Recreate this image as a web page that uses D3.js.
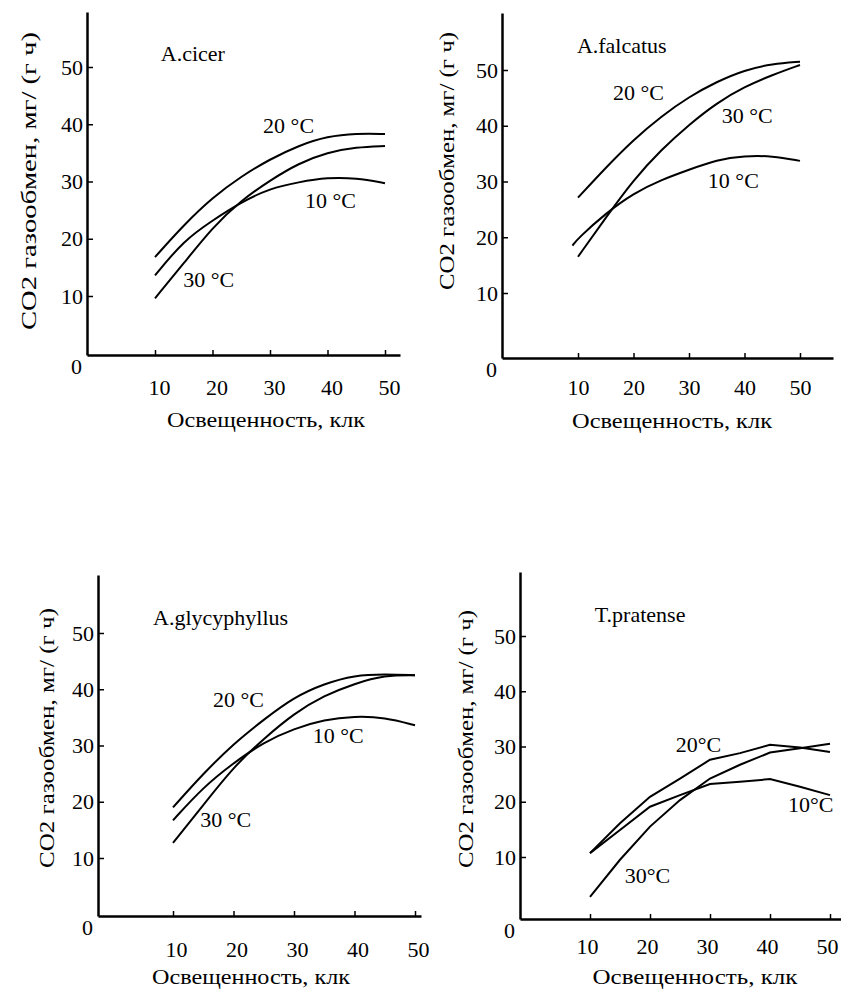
<!DOCTYPE html>
<html>
<head>
<meta charset="utf-8">
<script src="https://cdn.jsdelivr.net/npm/d3@7"></script>
<style>
  body { margin: 0; background: #fff; }
  svg { display: block; font-family: 'Liberation Serif', 'Times New Roman', serif; }
</style>
</head>
<body>
<svg width="841" height="989"></svg>
<script>
'use strict'

// Data.
const lux = [10, 15, 20, 25, 30, 35, 40, 45, 50]
const luxFromNine = [9, 10, 15, 20, 25, 30, 35, 40, 45, 50]
const xTicks = [10, 20, 30, 40, 50]
const yTicks = [10, 20, 30, 40, 50]
const yLabel = 'CO2 газообмен, мг/ (г ч)'
const xLabel = 'Освещенность, клк'

const cicer10 = [13.6, 19.7, 23.2, 26.4, 28.8, 29.9, 30.7, 30.6, 29.7]
const cicer20 = [16.8, 22.4, 27.2, 30.9, 33.9, 36.3, 37.9, 38.4, 38.3]
const cicer30 = [9.6, 15.7, 22.0, 26.7, 30.2, 33.2, 35.1, 36.0, 36.2]

const falcatus10 = [18.5, 19.8, 24.3, 27.9, 30.3, 32.1, 33.9, 34.6, 34.6, 33.7]
const falcatus20 = [27.1, 32.5, 37.5, 41.7, 45.2, 47.9, 50.0, 51.1, 51.5]
const falcatus30 = [16.5, 23.5, 30.3, 35.7, 40.2, 44.1, 47.0, 49.1, 50.9]

const glyc10 = [16.7, 22.6, 26.9, 30.6, 33.0, 34.6, 35.2, 35.0, 33.6]
const glyc20 = [19.0, 25.0, 30.3, 34.6, 38.6, 41.0, 42.5, 42.7, 42.5]
const glyc30 = [12.7, 19.4, 26.2, 31.2, 35.7, 38.9, 41.0, 42.5, 42.5]

const prat10 = [10.7, 14.9, 19.1, 21.2, 23.2, 23.6, 24.1, 22.7, 21.2]
const prat20 = [10.7, 16.1, 20.9, 24.2, 27.6, 28.8, 30.3, 29.8, 29.0]
const prat30 = [2.8, 9.5, 15.5, 20.3, 24.2, 26.7, 28.9, 29.7, 30.5]

// Panel layout: axis frame in pixels, where ticks 10 and 50 fall, label spots in data units.
const panels = [
  {
    name: 'A.cicer', nameAt: [11.0, 51.0], curve: d3.curveBasis,
    frame: { left: 87, top: 12, bottom: 355, right: 400 },
    x10: 155, x50: 385, y10: 296, y50: 67, xPad: 24, xDx: 4,
    yTitle: { x: 36, y: 181, len: 298 }, xTitle: { x: 266, y: 427, len: 198 },
    series: [
      { label: '20 °C', x: lux, y: cicer20, at: [28.8, 38.5] },
      { label: '10 °C', x: lux, y: cicer10, at: [36.1, 25.4] },
      { label: '30 °C', x: lux, y: cicer30, at: [14.9, 11.6] },
    ],
  },
  {
    name: 'A.falcatus', nameAt: [9.8, 53.0], curve: d3.curveBasis,
    frame: { left: 502, top: 13, bottom: 358, right: 833 },
    x10: 578, x50: 800, y10: 293, y50: 70, xPad: 21, xDx: 0,
    yTitle: { x: 454, y: 161, len: 258 }, xTitle: { x: 672, y: 428, len: 200 },
    series: [
      { label: '20 °C', x: lux, y: falcatus20, at: [16.3, 44.6] },
      { label: '30 °C', x: lux, y: falcatus30, at: [35.9, 40.5] },
      { label: '10 °C', x: luxFromNine, y: falcatus10, at: [33.4, 28.8] },
    ],
  },
  {
    name: 'A.glycyphyllus', nameAt: [6.7, 51.4], curve: d3.curveBasis,
    frame: { left: 98, top: 575, bottom: 916, right: 421 },
    x10: 173, x50: 415, y10: 858, y50: 633, xPad: 25, xDx: 3,
    yTitle: { x: 54, y: 738, len: 260 }, xTitle: { x: 251, y: 984, len: 198 },
    series: [
      { label: '20 °C', x: lux, y: glyc20, at: [16.6, 36.8] },
      { label: '10 °C', x: lux, y: glyc10, at: [33.1, 30.4] },
      { label: '30 °C', x: lux, y: glyc30, at: [14.5, 15.5] },
    ],
  },
  {
    name: 'T.pratense', nameAt: [10.8, 52.5], curve: d3.curveLinear,
    frame: { left: 520, top: 572, bottom: 919, right: 841 },
    x10: 590, x50: 830, y10: 857, y50: 636, xPad: 19, xDx: -3,
    yTitle: { x: 473, y: 739, len: 258 }, xTitle: { x: 695, y: 984, len: 205 },
    series: [
      { label: '20°C', x: lux, y: prat20, at: [24.3, 29.0] },
      { label: '10°C', x: lux, y: prat10, at: [43.0, 18.1] },
      { label: '30°C', x: lux, y: prat30, at: [15.8, 5.3] },
    ],
  },
]

const svg = d3.select('svg')
const fontSize = 22

panels.forEach(panel => {
  const { frame } = panel
  const g = svg.append('g')

  // Scales fixed by the tick positions, then stretched to the drawn axis lines.
  const x = d3.scaleLinear().domain([10, 50]).range([panel.x10, panel.x50])
  x.domain([x.invert(frame.left), x.invert(frame.right)]).range([frame.left, frame.right])
  const y = d3.scaleLinear().domain([10, 50]).range([panel.y10, panel.y50])
  y.domain([y.invert(frame.bottom), y.invert(frame.top)]).range([frame.bottom, frame.top])

  // Axes.
  const xAxis = g
    .append('g')
    .attr('transform', `translate(0, ${frame.bottom})`)
    .call(
      d3.axisBottom(x).tickValues(xTicks).tickSizeInner(-5).tickSizeOuter(0).tickPadding(panel.xPad)
    )
  const yAxis = g
    .append('g')
    .attr('transform', `translate(${frame.left}, 0)`)
    .call(d3.axisLeft(y).tickValues(yTicks).tickSizeInner(-6).tickSizeOuter(0).tickPadding(4))

  ;[xAxis, yAxis].forEach(axis => {
    axis.attr('font-family', null).attr('font-size', fontSize)
    axis.select('.domain').attr('stroke', '#000').attr('stroke-width', 2.5)
    axis.selectAll('.tick line').attr('stroke', '#000').attr('stroke-width', 1.5)
    axis.selectAll('.tick text').attr('fill', '#000')
  })
  xAxis.selectAll('.tick text').attr('dx', panel.xDx)

  // Zero sits below-left of the origin.
  g.append('text')
    .attr('x', frame.left - 5)
    .attr('y', frame.bottom + 19)
    .attr('text-anchor', 'end')
    .attr('font-size', fontSize)
    .text('0')

  // Axis titles.
  g.append('text')
    .attr('transform', `translate(${panel.yTitle.x}, ${panel.yTitle.y}) rotate(-90)`)
    .attr('text-anchor', 'middle')
    .attr('font-size', fontSize)
    .attr('textLength', panel.yTitle.len)
    .attr('lengthAdjust', 'spacingAndGlyphs')
    .text(yLabel)
  g.append('text')
    .attr('x', panel.xTitle.x - panel.xTitle.len / 2)
    .attr('y', panel.xTitle.y)
    .attr('font-size', fontSize)
    .attr('textLength', panel.xTitle.len)
    .attr('lengthAdjust', 'spacingAndGlyphs')
    .text(xLabel)

  // Species name.
  g.append('text')
    .attr('x', x(panel.nameAt[0]))
    .attr('y', y(panel.nameAt[1]))
    .attr('font-size', fontSize)
    .text(panel.name)

  // Curves.
  const line = d3
    .line()
    .x(d => x(d[0]))
    .y(d => y(d[1]))
    .curve(panel.curve)

  g.selectAll('path.curve')
    .data(panel.series)
    .enter()
    .append('path')
    .attr('class', 'curve')
    .attr('d', s => line(d3.zip(s.x, s.y)))
    .attr('fill', 'none')
    .attr('stroke', '#000')
    .attr('stroke-width', 2)

  g.selectAll('text.temp')
    .data(panel.series)
    .enter()
    .append('text')
    .attr('class', 'temp')
    .attr('x', s => x(s.at[0]))
    .attr('y', s => y(s.at[1]))
    .attr('font-size', fontSize)
    .text(s => s.label)
})
</script>
</body>
</html>
